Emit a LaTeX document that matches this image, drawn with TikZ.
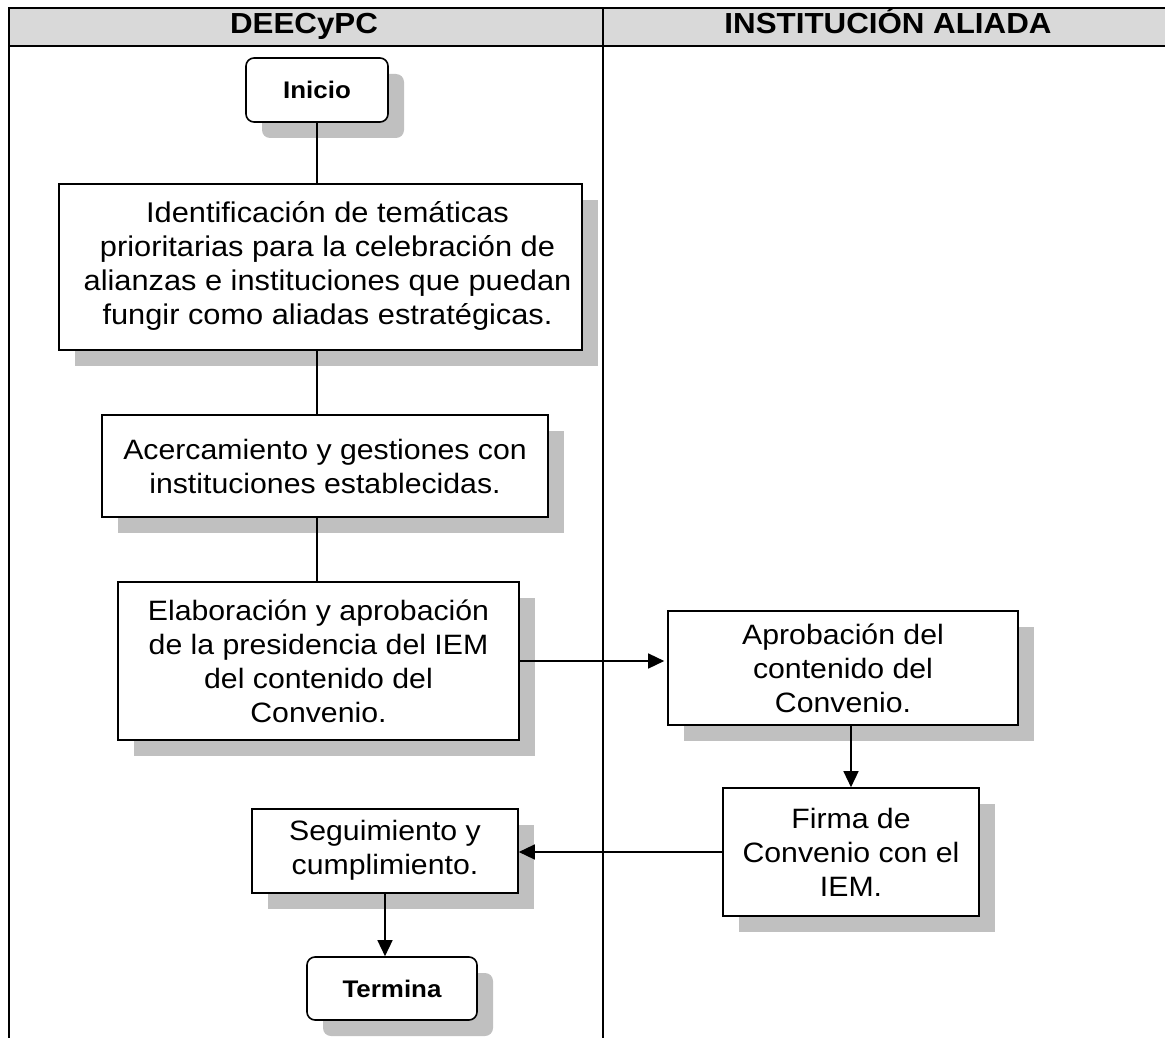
\documentclass[tikz,border=0pt]{standalone}
\usepackage{fontspec}
\setmainfont{Liberation Sans}[FakeStretch=1.08]
\usetikzlibrary{shadows,arrows.meta}
\definecolor{shadowgray}{HTML}{C0C0C0}
\definecolor{headgray}{HTML}{D9D9D9}
\begin{document}
\begin{tikzpicture}[x=1pt,y=-1pt,
  box/.style={draw=black, line width=1.6pt, fill=white, inner sep=0pt, align=center,
    font=\fontsize{28}{34}\selectfont,
    drop shadow={shadow xshift=16pt, shadow yshift=-16pt, fill=shadowgray, opacity=1}},
  term/.style={box, rounded corners=8pt, font=\fontsize{24}{28}\selectfont\bfseries},
  conn/.style={line width=1.4pt},
  arr/.style={conn, -{Triangle[length=16pt,width=15pt]}},
  lane/.style={line width=2pt},
  head/.style={font=\fontsize{29}{32}\selectfont\bfseries, inner sep=0pt, anchor=base}]
\useasboundingbox (0,0) rectangle (1165,1038);
% table
\fill[headgray] (9,8) rectangle (1165,46);
\draw[lane] (1165,8) -- (9,8) -- (9,1038);
\draw[lane] (9,46) -- (1165,46);
\draw[lane] (603,8) -- (603,1038);
\node[head] (h1) at (304,34) {DEECyPC};
\node[head] (h2) at (888,34) {INSTITUCIÓN ALIADA};
% boxes
\node[term, minimum width=142pt, minimum height=64pt] (ini) at (317,90) {Inicio};
\node[box, font=\fontsize{28.5}{34}\selectfont, minimum width=523pt, minimum height=166pt] (ident) at (320.5,267)
  {\begin{tabular}{@{\hspace{14pt}}c@{}}Identificación de temáticas\\prioritarias para la celebración de\\alianzas e instituciones que puedan\\fungir como aliadas estratégicas.\end{tabular}};
\node[box, minimum width=446pt, minimum height=102pt] (acerc) at (325,466)
  {Acercamiento y gestiones con\\instituciones establecidas.};
\node[box, minimum width=401pt, minimum height=158pt] (elab) at (318.5,661)
  {Elaboración y aprobación\\de la presidencia del IEM\\del contenido del\\Convenio.};
\node[box, minimum width=350pt, minimum height=114pt] (aprob) at (843,668)
  {Aprobación del\\contenido del\\Convenio.};
\node[box, minimum width=256pt, minimum height=128pt] (firma) at (851,852)
  {Firma de\\Convenio con el\\IEM.};
\node[box, minimum width=266pt, minimum height=84pt] (segui) at (385,851)
  {\raisebox{-4pt}{\begin{tabular}{@{}c@{}}Seguimiento y\\cumplimiento.\end{tabular}}};
\node[term, minimum width=170pt, minimum height=63pt] (termina) at (392,988.5) {Termina};
% connectors
\draw[conn] (ini.south) -- (ini.south |- ident.north);
\draw[conn] (ident.south -| ini.south) -- (acerc.north -| ini.south);
\draw[conn] (acerc.south -| ini.south) -- (elab.north -| ini.south);
\draw[arr, shorten >=3pt] (elab.east) -- (elab.east -| aprob.west);
\draw[arr] (firma.north |- aprob.south) -- (firma.north);
\draw[arr] (firma.west) -- (firma.west -| segui.east);
\draw[arr] (segui.south) -- (segui.south |- termina.north);
\end{tikzpicture}
\end{document}
